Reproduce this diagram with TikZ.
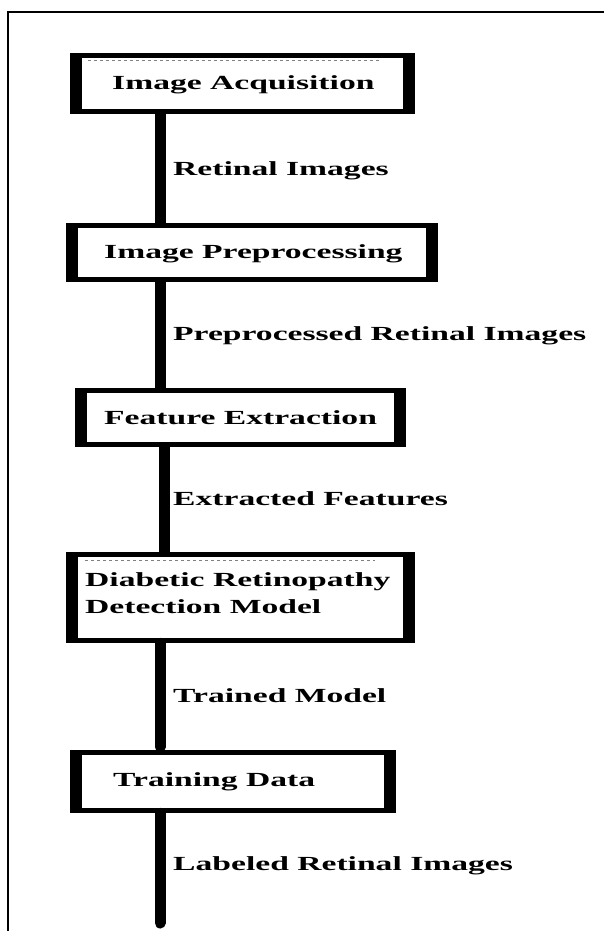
\documentclass[tikz,border=0pt]{standalone}
\usepackage{fontspec}
\setmainfont{Liberation Serif}
\newcommand{\wt}[1]{\scalebox{1.68}[1]{#1}}
\begin{document}
\begin{tikzpicture}[x=1pt,y=-1pt,
  boxnode/.style={draw=none, fill=white, inner sep=0, anchor=north west},
  txt/.style={font=\fontsize{20}{27}\selectfont\bfseries, inner sep=0, anchor=base west, align=left},
  conn/.style={line width=11pt, black},
  frame/.style={line width=2pt, black},
  artifact/.style={gray, dashed, line width=0.8pt}]
\useasboundingbox (0,0) rectangle (603,931);
% outer frame
\draw[frame] (8,935) -- (8,12) -- (607,12);
% boxes
\newcommand{\tbox}[5]{%
  \node[boxnode, minimum width=#3-#2, minimum height=#5-#4] (#1) at (#2,#4) {};
  \fill (#1.north west) rectangle ([yshift=-5pt]#1.north east);
  \fill (#1.south west) rectangle ([yshift=5pt]#1.south east);
  \fill (#1.north west) rectangle ([xshift=12pt]#1.south west);
  \fill (#1.north east) rectangle ([xshift=-12pt]#1.south east);
}
\tbox{b1}{70}{415}{53}{114}
\tbox{b2}{66}{438}{223}{282}
\tbox{b3}{75}{406}{388}{447}
\tbox{b4}{66}{415}{552}{643}
\tbox{b5}{70}{396}{750}{813}
% small artifacts
\draw[artifact] (88,60) -- (380,60);
\draw[artifact] (85,560) -- (375,560);
% box texts
\node[txt] (t1) at (112,90) {\wt{Image Acquisition}};
\node[txt] (t2) at (104,258) {\wt{Image Preprocessing}};
\node[txt] (t3) at (104,424) {\wt{Feature Extraction}};
\node[txt, anchor=north west] (t4) at (85,572) {\wt{Diabetic Retinopathy}\\\wt{Detection Model}};
\node[txt] (t5) at (113,786) {\wt{Training Data}};
% connectors
\coordinate (cx) at (160,0);
\coordinate (cx3) at (164,0);
\coordinate (endpt) at (160,923);
\draw[conn] (b1.south -| cx) -- (b2.north -| cx);
\draw[conn] (b2.south -| cx) -- (b3.north -| cx);
\draw[conn] (b3.south -| cx3) -- (b4.north -| cx3);
\draw[conn, line cap=round] (b4.south -| cx) -- ([yshift=3pt]b5.north -| cx);
\draw[conn, line cap=round] (b5.south -| cx) -- (endpt);
% connector labels
\node[txt] (l1) at (173,175) {\wt{Retinal Images}};
\node[txt] (l2) at (173,340) {\wt{Preprocessed Retinal Images}};
\node[txt] (l3) at (173,505) {\wt{Extracted Features}};
\node[txt] (l4) at (173,702) {\wt{Trained Model}};
\node[txt] (l5) at (173,870) {\wt{Labeled Retinal Images}};
\end{tikzpicture}
\end{document}
